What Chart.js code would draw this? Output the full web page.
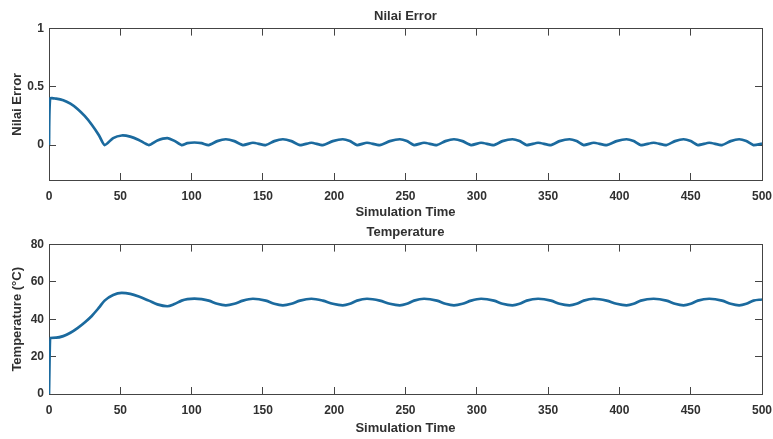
<!DOCTYPE html>
<html>
<head>
    <meta charset="UTF-8">
    <title>Nilai Error / Temperature</title>
    <style>
        body { margin: 0; background: #fff; }
        .wrap { position: absolute; left: 0; width: 773px; }
        #topWrap { top: 0; height: 220px; }
        #botWrap { top: 220px; height: 219px; }
    </style>
</head>
<body>
    <div class="wrap" id="topWrap"><canvas id="errChart"></canvas></div>
    <div class="wrap" id="botWrap"><canvas id="tempChart"></canvas></div>
    <script src="https://cdn.jsdelivr.net/npm/chart.js@4"></script>
    <script>
        // values
        const simTime = [0, 0.8, 5, 10, 15, 20, 25, 30, 35, 39, 45, 51, 57, 63, 70, 76, 83, 88, 93, 97,
            102, 107, 112, 118, 124, 130, 136, 143, 152, 158, 164, 170, 176, 184, 192, 199, 206, 211, 216, 223,
            232, 239, 246, 251, 256, 263, 272, 278, 284, 290, 296, 303, 312, 318, 325, 330, 335, 343, 352, 358,
            365, 370, 375, 382, 391, 398, 405, 410, 415, 424, 433, 439, 445, 450, 455, 463, 472, 478, 484, 489,
            494, 500];
        const errorValues = [0, 0.4, 0.398, 0.385, 0.355, 0.31, 0.25, 0.175, 0.085, 0, 0.06, 0.082, 0.072, 0.044, 0, 0.04, 0.06, 0.036, 0, 0.016,
            0.022, 0.016, 0, 0.034, 0.05, 0.034, 0, 0.02, 0, 0.034, 0.05, 0.034, 0, 0.02, 0, 0.034, 0.05, 0.034, 0, 0.02,
            0, 0.034, 0.05, 0.034, 0, 0.02, 0, 0.034, 0.05, 0.034, 0, 0.02, 0, 0.034, 0.05, 0.034, 0, 0.02, 0, 0.034,
            0.05, 0.034, 0, 0.02, 0, 0.034, 0.05, 0.034, 0, 0.02, 0, 0.034, 0.05, 0.034, 0, 0.02, 0, 0.034, 0.05, 0.034,
            0, 0.012];
        const tempValues = [0, 30, 30.2, 31, 32.8, 35.3, 38.3, 41.8, 46.2, 50, 53, 54.1, 53.6, 52.2, 50, 48, 47, 48.2, 50, 50.8,
            51.1, 50.8, 50, 48.3, 47.5, 48.3, 50, 51, 50, 48.3, 47.5, 48.3, 50, 51, 50, 48.3, 47.5, 48.3, 50, 51,
            50, 48.3, 47.5, 48.3, 50, 51, 50, 48.3, 47.5, 48.3, 50, 51, 50, 48.3, 47.5, 48.3, 50, 51, 50, 48.3,
            47.5, 48.3, 50, 51, 50, 48.3, 47.5, 48.3, 50, 51, 50, 48.3, 47.5, 48.3, 50, 51, 50, 48.3, 47.5, 48.3,
            50, 50.6];
        const xTicks = [0, 50, 100, 150, 200, 250, 300, 350, 400, 450, 500];
        const errTicks = [0, 0.5, 1];
        const tempTicks = [0, 20, 40, 60, 80];

        const lineColor = '#1b6a9e';
        const axisColor = '#444';
        const textColor = '#303030';
        const tickFont = { family: 'Liberation Sans, Arial, sans-serif', size: 12, weight: 'bold' };
        const titleFont = { family: 'Liberation Sans, Arial, sans-serif', size: 13, weight: 'bold' };

        function fixedTicks(list) {
            return scale => { scale.ticks = list.map(v => ({ value: v })); };
        }

        function makeChart(id, cfg) {
            const points = simTime.map((t, i) => ({ x: t, y: cfg.values[i] }));
            const tickMarks = { drawOnChartArea: false, drawTicks: true, tickLength: -7, color: axisColor, lineWidth: 1 };
            const border = { color: axisColor, width: 1 };
            return new Chart(document.getElementById(id), {
                type: 'line',
                data: {
                    datasets: [{
                        data: points,
                        borderColor: lineColor,
                        borderWidth: 2.7,
                        pointRadius: 0,
                        tension: cfg.tension,
                        cubicInterpolationMode: cfg.mode,
                        fill: false
                    }]
                },
                options: {
                    responsive: true,
                    maintainAspectRatio: false,
                    animation: false,
                    layout: { padding: { left: 10, right: 11, top: 0, bottom: cfg.padBottom } },
                    plugins: {
                        legend: { display: false },
                        tooltip: { enabled: false },
                        title: {
                            display: true,
                            text: cfg.title,
                            fullSize: false,
                            color: textColor,
                            font: titleFont,
                            padding: cfg.titlePad
                        }
                    },
                    scales: {
                        x: {
                            type: 'linear', position: 'bottom', min: 0, max: 500,
                            afterBuildTicks: fixedTicks(xTicks),
                            afterFit: s => { s.height = cfg.xHeight; s.paddingLeft = 0; s.paddingRight = 0; },
                            border, grid: tickMarks,
                            ticks: { padding: cfg.xTickPad, color: textColor, font: tickFont, maxRotation: 0, callback: v => String(v) },
                            title: { display: true, text: 'Simulation Time', color: textColor, font: titleFont, padding: 0 }
                        },
                        x2: {
                            type: 'linear', position: 'top', min: 0, max: 500,
                            afterBuildTicks: fixedTicks(xTicks),
                            afterFit: s => { s.height = 0; s.paddingLeft = 0; s.paddingRight = 0; },
                            border, grid: tickMarks,
                            ticks: { display: false }
                        },
                        y: {
                            type: 'linear', position: 'left', min: cfg.yMin, max: cfg.yMax,
                            afterBuildTicks: fixedTicks(cfg.yTicks),
                            afterFit: s => { s.width = 39; s.paddingTop = 0; s.paddingBottom = 0; },
                            border, grid: tickMarks,
                            ticks: { padding: 12, color: textColor, font: tickFont, callback: v => String(v) },
                            title: { display: true, text: cfg.yTitle, color: textColor, font: titleFont, padding: 0 }
                        },
                        y2: {
                            type: 'linear', position: 'right', min: cfg.yMin, max: cfg.yMax,
                            afterBuildTicks: fixedTicks(cfg.yTicks),
                            afterFit: s => { s.width = 0; },
                            border, grid: tickMarks,
                            ticks: { display: false }
                        }
                    }
                }
            });
        }

        makeChart('errChart', {
            values: errorValues, title: 'Nilai Error', yTitle: 'Nilai Error',
            yMin: -0.3, yMax: 1, yTicks: errTicks,
            tension: 0.2, mode: 'default',
            titlePad: { top: 9, bottom: 4 }, xHeight: 40, xTickPad: 16, padBottom: 0
        });

        makeChart('tempChart', {
            values: tempValues, title: 'Temperature', yTitle: 'Temperature (°C)',
            yMin: 0, yMax: 80, yTicks: tempTicks,
            tension: 0.4, mode: 'monotone',
            titlePad: { top: 5, bottom: 4 }, xHeight: 42, xTickPad: 16, padBottom: 3
        });
    </script>
</body>
</html>
